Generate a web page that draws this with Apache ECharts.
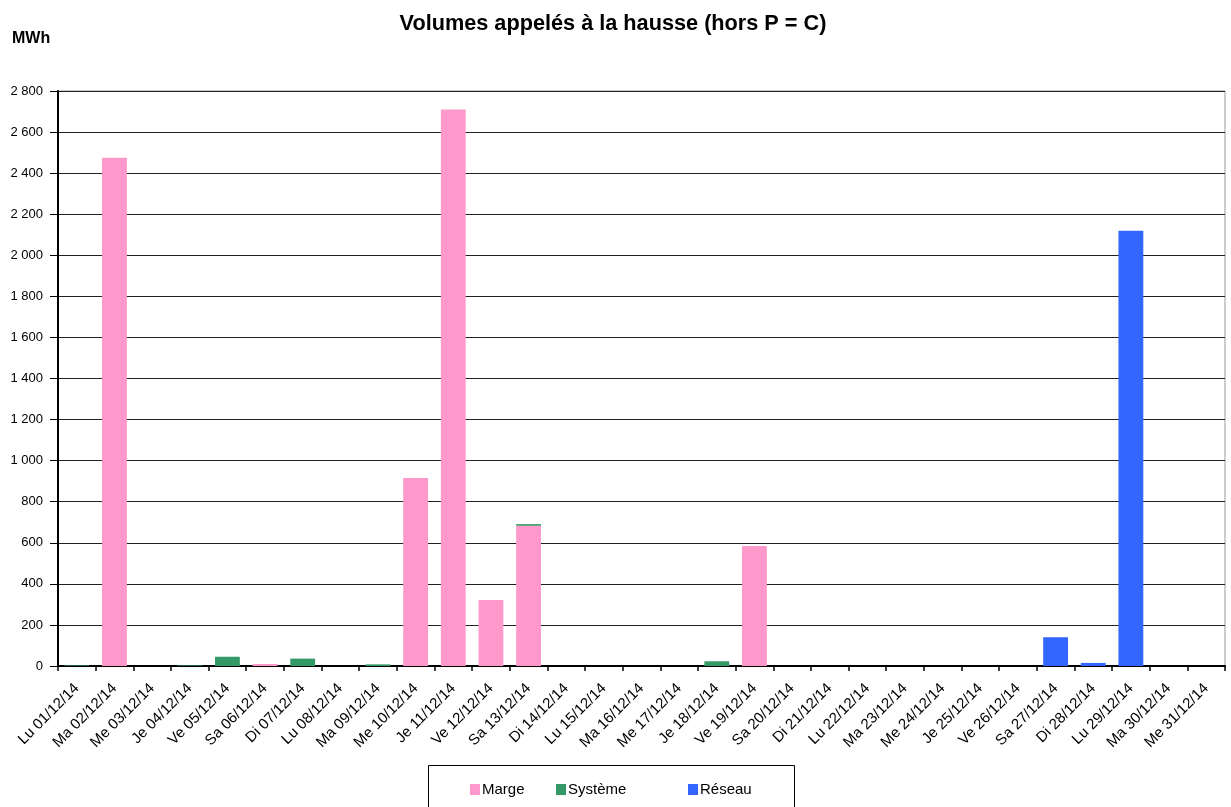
<!DOCTYPE html>
<html>
<head>
<meta charset="utf-8">
<script src="https://cdn.jsdelivr.net/npm/echarts@6/dist/echarts.min.js"></script>
<style>
  html, body { margin: 0; padding: 0; background: #fff; }
  #chart { width: 1231px; height: 807px; }
</style>
</head>
<body>
<div id="chart"></div>
<script>
// jours de décembre 2014
var days = ['Lu 01/12/14', 'Ma 02/12/14', 'Me 03/12/14', 'Je 04/12/14', 'Ve 05/12/14', 'Sa 06/12/14', 'Di 07/12/14',
  'Lu 08/12/14', 'Ma 09/12/14', 'Me 10/12/14', 'Je 11/12/14', 'Ve 12/12/14', 'Sa 13/12/14', 'Di 14/12/14',
  'Lu 15/12/14', 'Ma 16/12/14', 'Me 17/12/14', 'Je 18/12/14', 'Ve 19/12/14', 'Sa 20/12/14', 'Di 21/12/14',
  'Lu 22/12/14', 'Ma 23/12/14', 'Me 24/12/14', 'Je 25/12/14', 'Ve 26/12/14', 'Sa 27/12/14', 'Di 28/12/14',
  'Lu 29/12/14', 'Ma 30/12/14', 'Me 31/12/14'];

var marge   = [0, 2475, 0, 0, 0, 10, 0, 0, 0, 915, 2710, 322, 683, 0, 0, 0, 0, 0, 584, 0, 0, 0, 0, 0, 0, 0, 0, 0, 0, 0, 0];
var systeme = [3, 0, 0, 3, 45, 0, 36, 0, 8, 0, 0, 0, 8, 0, 0, 0, 0, 23, 0, 0, 0, 0, 0, 0, 0, 0, 0, 0, 0, 0, 0];
var reseau  = [0, 0, 0, 0, 0, 0, 0, 0, 0, 0, 0, 0, 0, 0, 0, 0, 0, 0, 0, 0, 0, 0, 0, 0, 0, 0, 140, 15, 2120, 0, 0];

var yTicks = { min: 0, max: 2800, interval: 200 };

var chart = echarts.init(document.getElementById('chart'));
var font = 'Liberation Sans, Arial, sans-serif';

function legendAt(name, x) {
  return {
    data: [name],
    left: x, top: 782,
    itemWidth: 10, itemHeight: 11, itemGap: 0,
    icon: 'rect',
    padding: 0,
    textStyle: { fontFamily: font, fontSize: 15, color: '#000', padding: [0, 0, 0, -3] },
    selectedMode: false
  };
}

chart.setOption({
  animation: false,
  backgroundColor: '#fff',
  title: {
    text: 'Volumes appelés à la hausse (hors P = C)',
    left: 608, top: 8, textAlign: 'center',
    textStyle: { fontFamily: font, fontSize: 21.7, fontWeight: 'bold', color: '#000' }
  },
  legend: [legendAt('Marge', 470), legendAt('Système', 556), legendAt('Réseau', 688)],
  grid: { left: 58, right: 6, top: 91, bottom: 141, show: true, borderColor: '#999', borderWidth: 1 },
  xAxis: {
    type: 'category',
    data: days,
    axisLine: { lineStyle: { color: '#000', width: 2 } },
    axisTick: { show: true, length: 5, lineStyle: { color: '#000', width: 1.5 } },
    axisLabel: { rotate: 45, interval: 0, fontFamily: font, fontSize: 15, color: '#000', margin: 20 }
  },
  yAxis: {
    type: 'value',
    min: yTicks.min, max: yTicks.max, interval: yTicks.interval,
    axisLine: { show: true, lineStyle: { color: '#000', width: 2 } },
    axisTick: { show: true, length: 8, lineStyle: { color: '#000' } },
    splitLine: { lineStyle: { color: '#222', width: 1.2 } },
    axisLabel: {
      fontFamily: font, fontSize: 13, color: '#000', margin: 15,
      formatter: function (v) { return String(v).replace(/\B(?=(\d{3})+(?!\d))/g, ' '); }
    }
  },
  series: [
    { name: 'Marge', type: 'bar', stack: 'v', data: marge, barWidth: '66%', itemStyle: { color: '#FF99CC' } },
    { name: 'Système', type: 'bar', stack: 'v', data: systeme, itemStyle: { color: '#339966' } },
    { name: 'Réseau', type: 'bar', stack: 'v', data: reseau, itemStyle: { color: '#3366FF' } }
  ],
  graphic: [
    { type: 'text', left: 12, top: 31, style: { text: 'MWh', font: 'bold 16px ' + font, fill: '#000' } },
    { type: 'rect', shape: { x: 428.5, y: 765.5, width: 366, height: 60 }, style: { fill: 'none', stroke: '#000', lineWidth: 1 }, z: -1 }
  ]
});
</script>
</body>
</html>
